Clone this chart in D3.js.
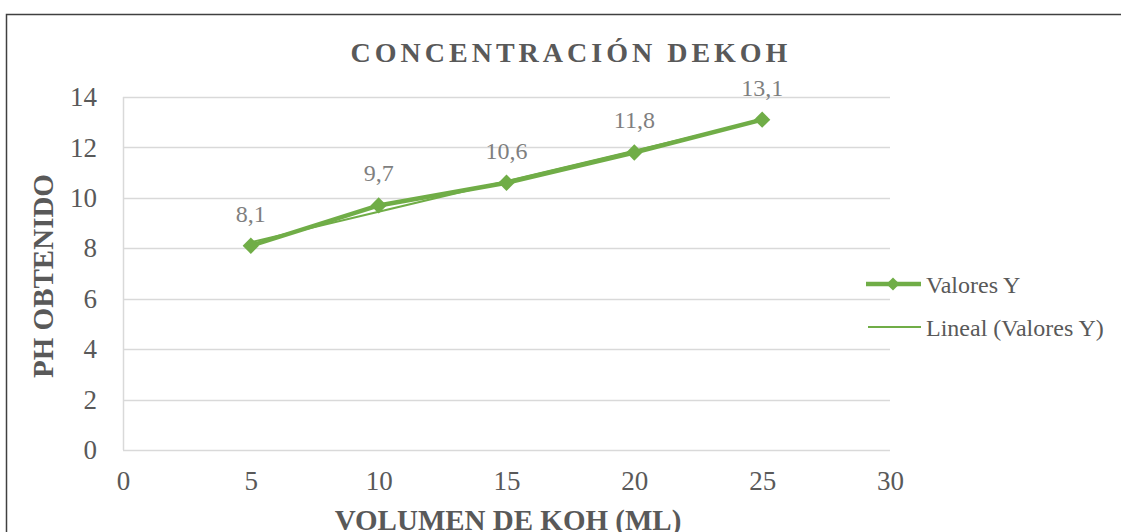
<!DOCTYPE html>
<meta charset="utf-8">
<script src="https://d3js.org/d3.v7.min.js"></script>
<div id="my_dataviz"></div>

<style>
  body { margin: 0; background: #fff; }
  text { font-family: 'Liberation Serif', 'Times New Roman', serif; }
</style>

<script>

// data
var volumes = [5, 10, 15, 20, 25];
var phValues = [8.1, 9.7, 10.6, 11.8, 13.1];
var phLabels = ["8,1", "9,7", "10,6", "11,8", "13,1"];
var xTicks = [0, 5, 10, 15, 20, 25, 30];
var yTicks = [0, 2, 4, 6, 8, 10, 12, 14];
var seriesNames = ["Valores Y", "Lineal (Valores Y)"];

var W = 1121, H = 532;
var margin = {top: 97, right: 231, bottom: 82, left: 123},
    width = W - margin.left - margin.right,
    height = H - margin.top - margin.bottom;

var green = "#70ad47", textGray = "#595959";

var root = d3.select("#my_dataviz")
  .append("svg")
    .attr("width", W)
    .attr("height", H);

// outer frame (only top and left edges are visible)
root.append("path")
  .attr("d", "M6.5," + H + "V14.5H" + W)
  .attr("fill", "none")
  .attr("stroke", "#404040")
  .attr("stroke-width", 1.5);

var svg = root.append("g")
  .attr("transform", "translate(" + margin.left + "," + margin.top + ")");

var x = d3.scaleLinear().domain([0, 30]).range([0, width]);
var y = d3.scaleLinear().domain([0, 14]).range([height, 0]);

// gridlines
svg.append("g")
  .selectAll("line")
  .data(yTicks)
  .enter().append("line")
    .attr("x1", 0)
    .attr("x2", width)
    .attr("y1", function(d) { return Math.round(y(d)) + 0.5; })
    .attr("y2", function(d) { return Math.round(y(d)) + 0.5; })
    .attr("stroke", "#d9d9d9")
    .attr("stroke-width", 1.5);

svg.append("line")
  .attr("x1", 0.5).attr("x2", 0.5)
  .attr("y1", 0).attr("y2", height)
  .attr("stroke", "#d9d9d9")
  .attr("stroke-width", 1.5);

// y axis
var yAxis = svg.append("g")
  .call(d3.axisLeft(y).tickValues(yTicks).tickSize(0).tickPadding(26));
yAxis.select(".domain").remove();
yAxis.selectAll("text")
  .attr("font-family", "'Liberation Serif', serif")
  .attr("font-size", 27)
  .attr("fill", textGray);

// x axis
var xAxis = svg.append("g")
  .attr("transform", "translate(0," + height + ")")
  .call(d3.axisBottom(x).tickValues(xTicks).tickSize(0).tickPadding(21));
xAxis.select(".domain").remove();
xAxis.selectAll("text")
  .attr("font-family", "'Liberation Serif', serif")
  .attr("font-size", 27)
  .attr("fill", textGray);

// linear trendline (least squares on the series)
var mx = d3.mean(volumes), my = d3.mean(phValues);
var sxy = d3.sum(volumes, function(v, i) { return (v - mx) * (phValues[i] - my); });
var sxx = d3.sum(volumes, function(v) { return (v - mx) * (v - mx); });
var slope = sxy / sxx, intercept = my - slope * mx;
var xMin = d3.min(volumes), xMax = d3.max(volumes);

svg.append("line")
  .attr("x1", x(xMin)).attr("y1", y(intercept + slope * xMin))
  .attr("x2", x(xMax)).attr("y2", y(intercept + slope * xMax))
  .attr("stroke", green)
  .attr("stroke-width", 2);

// main series
var points = volumes.map(function(v, i) { return {x: v, y: phValues[i], label: phLabels[i]}; });

var line = d3.line()
  .x(function(d) { return x(d.x); })
  .y(function(d) { return y(d.y); });

svg.append("path")
  .datum(points)
  .attr("fill", "none")
  .attr("stroke", green)
  .attr("stroke-width", 4.5)
  .attr("stroke-linejoin", "round")
  .attr("d", line);

var diamond = d3.symbol().type(d3.symbolDiamond2).size(170);

svg.selectAll(".marker")
  .data(points)
  .enter().append("path")
    .attr("class", "marker")
    .attr("transform", function(d) { return "translate(" + x(d.x) + "," + y(d.y) + ")"; })
    .attr("d", diamond)
    .attr("fill", green);

svg.selectAll(".dlabel")
  .data(points)
  .enter().append("text")
    .attr("class", "dlabel")
    .attr("x", function(d) { return x(d.x); })
    .attr("y", function(d) { return y(d.y) - 24; })
    .attr("text-anchor", "middle")
    .attr("font-size", 24)
    .attr("fill", "#7f7f7f")
    .text(function(d) { return d.label; });

// title
root.append("text")
  .attr("x", 571)
  .attr("y", 62)
  .attr("text-anchor", "middle")
  .attr("font-size", 28)
  .attr("font-weight", "bold")
  .attr("letter-spacing", 4)
  .attr("fill", textGray)
  .text("CONCENTRACIÓN DEKOH");

// axis titles
root.append("text")
  .attr("x", 508)
  .attr("y", 530)
  .attr("text-anchor", "middle")
  .attr("font-size", 29)
  .attr("font-weight", "bold")
  .attr("fill", textGray)
  .text("VOLUMEN DE KOH (ML)");

root.append("text")
  .attr("transform", "translate(53,276) rotate(-90)")
  .attr("text-anchor", "middle")
  .attr("font-size", 29)
  .attr("font-weight", "bold")
  .attr("fill", textGray)
  .text("PH OBTENIDO");

// legend
var legend = root.selectAll(".legend")
  .data(seriesNames)
  .enter().append("g")
    .attr("class", "legend")
    .attr("transform", function(d, i) { return "translate(866," + (284 + i * 43) + ")"; });

legend.append("line")
  .attr("x1", function(d, i) { return i === 0 ? 0 : 2; })
  .attr("x2", 55)
  .attr("y1", 0).attr("y2", 0)
  .attr("stroke", green)
  .attr("stroke-width", function(d, i) { return i === 0 ? 4.5 : 2; });

legend.filter(function(d, i) { return i === 0; })
  .append("path")
    .attr("transform", "translate(27,0)")
    .attr("d", d3.symbol().type(d3.symbolDiamond2).size(110))
    .attr("fill", green);

legend.append("text")
  .attr("x", 60)
  .attr("y", 9)
  .attr("font-size", 24)
  .attr("fill", textGray)
  .text(function(d) { return d; });

</script>
